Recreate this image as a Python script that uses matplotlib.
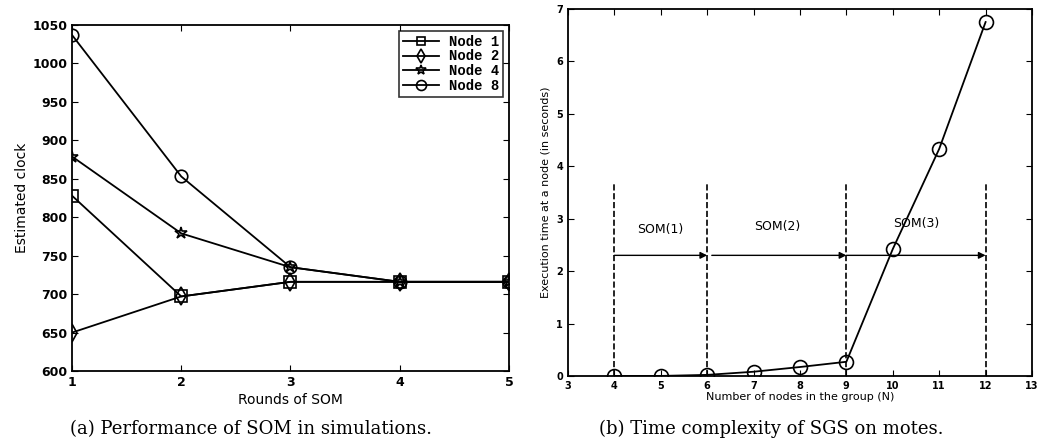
import matplotlib
matplotlib.use("Agg")
import matplotlib.pyplot as plt

# Left panel data
rounds = [1, 2, 3, 4, 5]
node1 = [828, 697, 716, 716, 716]
node2 = [650, 697, 716, 716, 716]
node4 = [879, 779, 735, 716, 716]
node8 = [1037, 853, 735, 716, 716]

# Right panel data
nodes_n = [4, 5, 6, 7, 8, 9, 10, 11, 12]
exec_time = [0.0, 0.0, 0.02, 0.08, 0.17, 0.27, 2.42, 4.33, 6.75]
boundaries = [4, 6, 9, 12]
som_labels = ["SOM(1)", "SOM(2)", "SOM(3)"]

fig = plt.figure(figsize=(10.44, 4.47), dpi=100)

# ---- Left ----
ax1 = fig.add_axes([0.069, 0.17, 0.4185, 0.774])
kw = dict(color="black", lw=1.3, markerfacecolor="none", markeredgewidth=1.2)
ax1.plot(rounds, node1, marker="s", markersize=8, label="Node 1", **kw)
ax1.plot(rounds, node2, marker="d", markersize=9, label="Node 2", **kw)
ax1.plot(rounds, node4, marker="*", markersize=9, label="Node 4", **kw)
ax1.plot(rounds, node8, marker="o", markersize=9, label="Node 8", **kw)
ax1.set_xlim(1, 5)
ax1.set_ylim(600, 1050)
ax1.set_xticks(rounds)
ax1.set_yticks(range(600, 1051, 50))
ax1.tick_params(direction="in", top=True, right=True, length=4)
for lab in ax1.get_xticklabels() + ax1.get_yticklabels():
    lab.set_fontweight("bold"); lab.set_fontsize(9)
ax1.set_xlabel("Rounds of SOM", fontsize=10, labelpad=3)
ax1.set_ylabel("Estimated clock", fontsize=10, labelpad=2)
leg = ax1.legend(loc="upper right", prop=dict(family="Liberation Mono", weight="bold", size=10),
                 frameon=True, fancybox=False, edgecolor="black", handlelength=2.6,
                 borderpad=0.3, labelspacing=0.05, handletextpad=0.7, borderaxespad=0.4,
                 markerscale=0.8)
leg.get_frame().set_linewidth(1.2)
for s in ax1.spines.values():
    s.set_linewidth(1.3)

# ---- Right ----
ax2 = fig.add_axes([0.544, 0.159, 0.4445, 0.821])
ax2.plot(nodes_n, exec_time, color="black", lw=1.3, marker="o", markersize=10,
         markerfacecolor="none", markeredgewidth=1.2)
ax2.vlines(boundaries, 0, 3.7, colors="black", linestyles="--", lw=1.2)
arrow_kw = dict(arrowstyle="-|>", color="black", lw=1.0, mutation_scale=10, shrinkA=0, shrinkB=0)
ax2.annotate("", xy=(6, 2.3), xytext=(4, 2.3), arrowprops=arrow_kw)
ax2.annotate("", xy=(9, 2.3), xytext=(6.1, 2.3), arrowprops=arrow_kw)
ax2.annotate("", xy=(12, 2.3), xytext=(9, 2.3), arrowprops=arrow_kw)
mids = [(boundaries[i] + boundaries[i + 1]) / 2 for i in range(3)]
ys = [2.8, 2.85, 2.9]
for m, y, t in zip(mids, ys, som_labels):
    ax2.text(m, y, t, ha="center", va="center", fontsize=9)
ax2.set_xlim(3, 13)
ax2.set_ylim(0, 7)
ax2.set_xticks(range(3, 14))
ax2.set_yticks(range(0, 8))
ax2.tick_params(direction="in", top=True, right=True, length=4)
for lab in ax2.get_xticklabels() + ax2.get_yticklabels():
    lab.set_fontweight("bold"); lab.set_fontsize(7)
ax2.set_xlabel("Number of nodes in the group (N)", fontsize=8, labelpad=1)
ax2.set_ylabel("Execution time at a node (in seconds)", fontsize=8, labelpad=4)
for s in ax2.spines.values():
    s.set_linewidth(1.3)

# Captions
fig.text(0.24, 0.04, "(a) Performance of SOM in simulations.", ha="center", va="center",
         family="DejaVu Serif", fontsize=13)
fig.text(0.739, 0.04, "(b) Time complexity of SGS on motes.", ha="center", va="center",
         family="DejaVu Serif", fontsize=13)

fig.savefig("out.png", dpi=100)
